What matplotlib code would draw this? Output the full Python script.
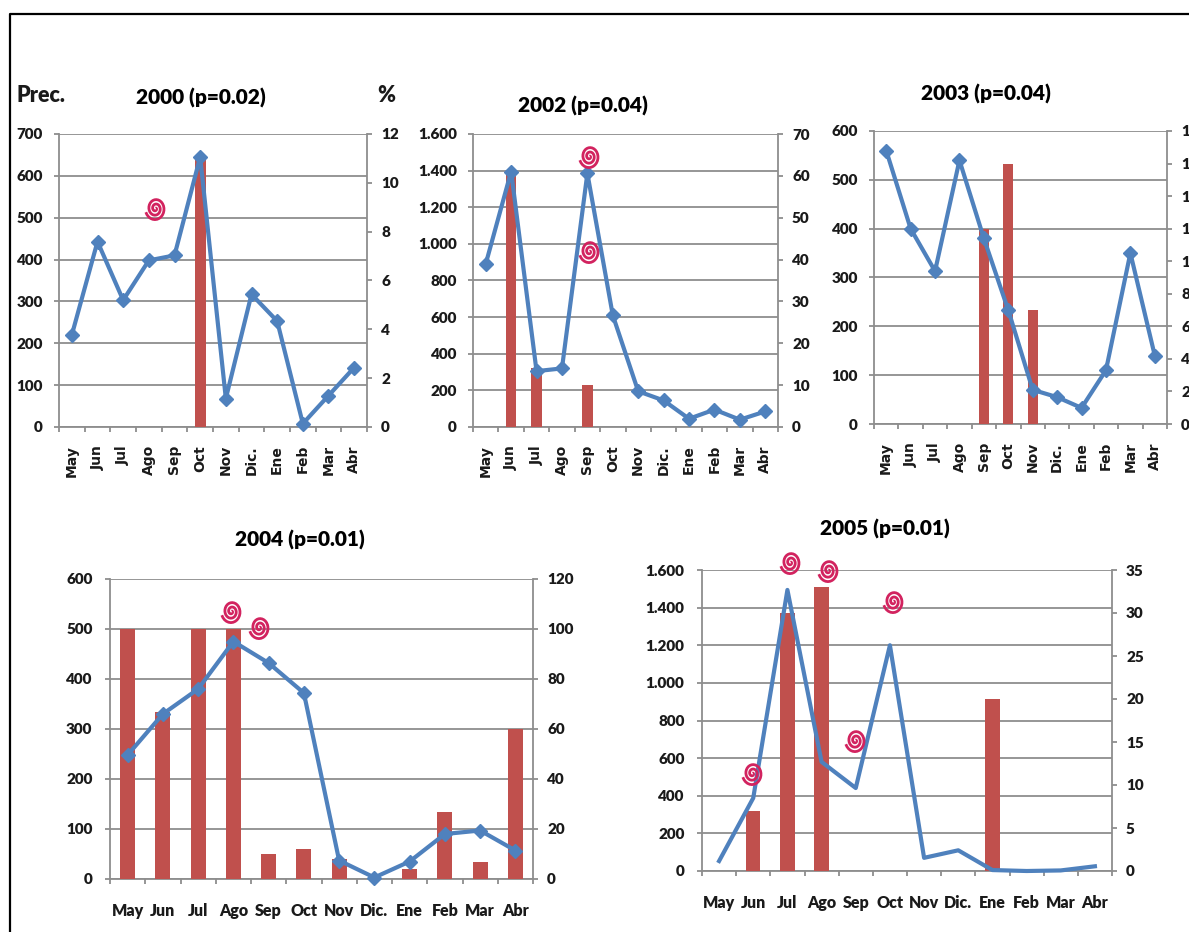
import numpy as np
import matplotlib
matplotlib.use('Agg')
import matplotlib.pyplot as plt
from matplotlib.path import Path

# Values
months = ['May', 'Jun', 'Jul', 'Ago', 'Sep', 'Oct', 'Nov', 'Dic.', 'Ene', 'Feb', 'Mar', 'Abr']

prec_2000 = [220, 443, 303, 398, 410, 645, 68, 317, 253, 8, 75, 142]
pct_2000 = [0, 0, 0, 0, 0, 11, 0, 0, 0, 0, 0, 0]
prec_2002 = [890, 1395, 305, 320, 1385, 610, 195, 145, 45, 95, 40, 85]
pct_2002 = [0, 61, 14, 0, 10, 0, 0, 0, 0, 0, 0, 0]
prec_2003 = [560, 400, 313, 540, 380, 233, 70, 55, 33, 110, 350, 140]
pct_2003 = [0, 0, 0, 0, 12, 16, 7, 0, 0, 0, 0, 0]
prec_2004 = [248, 330, 380, 475, 432, 372, 37, 3, 35, 90, 97, 57]
pct_2004 = [100, 67, 100, 100, 10, 12, 8, 0, 4, 27, 7, 60]
prec_2005 = [53, 388, 1494, 580, 441, 1200, 70, 110, 5, 0, 3, 25]
pct_2005 = [0, 7, 30, 33, 0, 0, 0, 0, 20, 0, 0, 0]

# Hand drawn spirals: (category position, precipitation)
spiral_2000 = ([3.24], [523])
spiral_2002 = ([4.07, 4.07], [1480, 961])
spiral_2003 = ([], [])
spiral_2004 = ([2.93, 3.73], [536, 504])
spiral_2005 = ([0.96, 2.07, 3.2, 3.98, 5.09], [521, 1642, 1600, 696, 1435])

left_ticks_2000 = [0, 100, 200, 300, 400, 500, 600, 700]
right_ticks_2000 = [0, 2, 4, 6, 8, 10, 12]
left_ticks_2002 = [0, 200, 400, 600, 800, 1000, 1200, 1400, 1600]
right_ticks_2002 = [0, 10, 20, 30, 40, 50, 60, 70]
left_ticks_2003 = [0, 100, 200, 300, 400, 500, 600]
right_ticks_2003 = [0, 2, 4, 6, 8, 10, 12, 14, 16, 18]
left_ticks_2004 = [0, 100, 200, 300, 400, 500, 600]
right_ticks_2004 = [0, 20, 40, 60, 80, 100, 120]
left_ticks_2005 = [0, 200, 400, 600, 800, 1000, 1200, 1400, 1600]
right_ticks_2005 = [0, 5, 10, 15, 20, 25, 30, 35]

W, H = 1189, 932
BLUE = '#4f81bd'
RED = '#c0504d'
GRAY = '#8e8e8e'
INK = '#1a1a1a'
SPIRAL_COLOR = '#d2235f'

plt.rcParams['font.family'] = ['Lato', 'DejaVu Sans']
plt.rcParams['font.weight'] = 'heavy'

# Spiral glyph used as a marker
turns = np.linspace(0.5, 2.7 * 2 * np.pi, 70)
radius = turns / turns.max()
spiral_marker = Path(np.column_stack([0.85 * radius * np.sin(turns), radius * np.cos(turns)]),
                     closed=False)


def dotted(v):
    return f'{v:,}'.replace(',', '.')


def draw_chart(fig, box, prec, pct, left_ticks, right_ticks, spirals, rotated, markers=True):
    x0, x1, y0, y1 = box
    rect = [x0 / W, 1 - y1 / H, (x1 - x0) / W, (y1 - y0) / H]
    pos = np.arange(len(months))

    ax = fig.add_axes(rect)
    ax.set_xlim(-0.5, 11.5)
    ax.set_ylim(0, left_ticks[-1])
    ax.set_yticks(left_ticks, [dotted(v) for v in left_ticks])
    ax.grid(axis='y', color=GRAY, lw=1.3)
    ax.set_axisbelow(True)
    ax.spines[['top', 'right']].set_visible(False)
    ax.spines[['left', 'bottom']].set_color(GRAY)
    ax.spines[['left', 'bottom']].set_linewidth(1.3)
    ax.tick_params(axis='y', length=3.6, color=GRAY, width=1.3, labelsize=11, labelcolor=INK,
                   pad=8 if rotated else 9)

    # Tick marks sit between the months
    ax.set_xticks(np.arange(-0.5, 12), minor=True)
    ax.tick_params(axis='x', which='minor', length=3.6, color=GRAY, width=1.3)
    ax.set_xticks(pos, months)
    if rotated:
        ax.tick_params(axis='x', which='major', length=0, labelsize=10, labelcolor=INK,
                       labelrotation=90, pad=13)
        for label in ax.get_xticklabels():
            label.set_family('DejaVu Sans')
            label.set_weight('bold')
    else:
        ax.tick_params(axis='x', which='major', length=0, labelsize=11.5, labelcolor=INK, pad=17)

    # Bars and right axis
    axr = ax.twinx()
    axr.set_ylim(0, right_ticks[-1])
    axr.bar(pos, pct, width=0.42, color=RED)
    axr.set_yticks(right_ticks, [str(v) for v in right_ticks])
    axr.patch.set_visible(False)
    axr.spines[['top', 'left', 'bottom']].set_visible(False)
    axr.spines['right'].set_color(GRAY)
    axr.spines['right'].set_linewidth(1.3)
    axr.tick_params(axis='y', length=3.6, color=GRAY, width=1.3, labelsize=11, labelcolor=INK, pad=6.5)

    # Line on the precipitation scale, over the bars
    axl = ax.twinx()
    axl.set_ylim(0, left_ticks[-1])
    axl.axis('off')
    axl.plot(pos, prec, color=BLUE, lw=3, marker='D' if markers else 'None', ms=7,
             mfc=BLUE, mec=BLUE, clip_on=False)
    axl.plot(spirals[0], spirals[1], ls='none', marker=spiral_marker, ms=16, mfc='none',
             mec=SPIRAL_COLOR, mew=2, clip_on=False)


fig = plt.figure(figsize=(W / 100, H / 100), dpi=100)

draw_chart(fig, (59, 367, 134, 427), prec_2000, pct_2000, left_ticks_2000, right_ticks_2000,
           spiral_2000, True)
draw_chart(fig, (473, 778, 134, 427), prec_2002, pct_2002, left_ticks_2002, right_ticks_2002,
           spiral_2002, True)
draw_chart(fig, (874, 1167, 131, 424), prec_2003, pct_2003, left_ticks_2003, right_ticks_2003,
           spiral_2003, True)
draw_chart(fig, (110, 533, 579, 879), prec_2004, pct_2004, left_ticks_2004, right_ticks_2004,
           spiral_2004, False)
# 2005 line has no markers in the original
draw_chart(fig, (702, 1112, 570, 871), prec_2005, pct_2005, left_ticks_2005, right_ticks_2005,
           spiral_2005, False, markers=False)

# Titles and axis captions
titles = ['2000 (p=0.02)', '2002 (p=0.04)', '2003 (p=0.04)', '2004 (p=0.01)', '2005 (p=0.01)']
title_x = [201, 583, 986, 300, 885]
title_y = [98, 106, 94, 540, 529]
for t, tx, ty in zip(titles, title_x, title_y):
    fig.text(tx / W, 1 - ty / H, t, ha='center', va='center', fontsize=15, color='black')
fig.text(17 / W, 1 - 95 / H, 'Prec.', ha='left', va='center', fontsize=15.5, color=INK)
fig.text(386 / W, 1 - 95 / H, '%', ha='center', va='center', fontsize=15.5, color=INK)

# Black frame running off the right and bottom edges
fig.add_artist(plt.Line2D([9.5 / W, 9.5 / W, 1], [0, 1 - 14 / H, 1 - 14 / H], color='black', lw=1.6))

fig.savefig('out.png', dpi=100)
